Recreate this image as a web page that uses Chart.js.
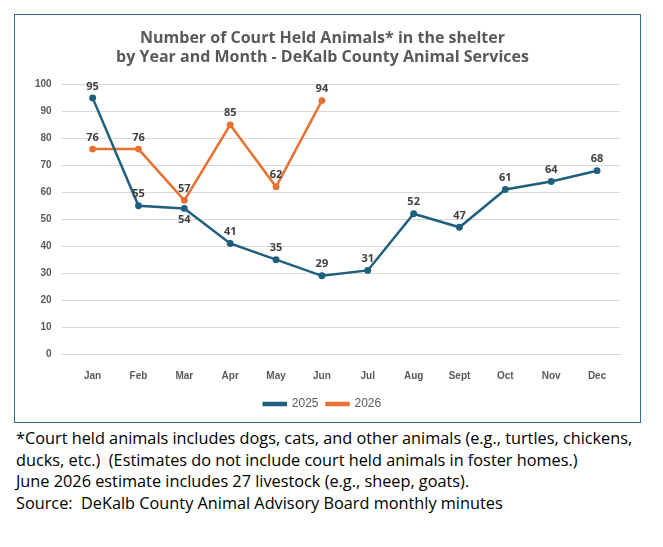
<!DOCTYPE html>
<html><head><meta charset="utf-8">
<script src="https://cdn.jsdelivr.net/npm/chart.js@4/dist/chart.umd.min.js"></script>
<style>
body{margin:0;background:#fff;font-family:"Open Sans",sans-serif;}
#box{position:absolute;left:14px;top:14px;width:627px;height:409px;border:1px solid #2f6f8f;box-sizing:border-box;}
#note{position:absolute;left:16px;top:428px;width:625px;font-size:16.3px;line-height:21.6px;color:#000;}
</style></head><body>
<div id="box"><canvas id="c"></canvas></div>
<div id="note">*Court held animals includes dogs, cats, and other animals (e.g., turtles, chickens, ducks, etc.)&nbsp; (Estimates do not include court held animals in foster homes.)<br>June 2026 estimate includes 27 livestock (e.g., sheep, goats).<br>Source:&nbsp; DeKalb County Animal Advisory Board monthly minutes</div>
<script>
const months = ["Jan","Feb","Mar","Apr","May","Jun","Jul","Aug","Sept","Oct","Nov","Dec"];
const values2025 = [95,55,54,41,35,29,31,52,47,61,64,68];
const values2026 = [76,76,57,85,62,94,null,null,null,null,null,null];
const below2025 = [false,false,true,false,false,false,false,false,false,false,false,false];

const labelPlugin = {
  id: "pointLabels",
  afterDatasetsDraw(chart) {
    const ctx = chart.ctx;
    ctx.save();
    ctx.font = "bold 11px 'Open Sans', sans-serif";
    ctx.fillStyle = "#404040";
    ctx.textAlign = "center";
    chart.data.datasets.forEach((ds, di) => {
      chart.getDatasetMeta(di).data.forEach((pt, i) => {
        const v = ds.data[i];
        if (v == null) return;
        const below = di === 0 && below2025[i];
        ctx.textBaseline = below ? "top" : "bottom";
        ctx.fillText(v, pt.x, below ? pt.y + 6 : pt.y - 6);
      });
    });
    ctx.restore();
  }
};

new Chart(document.getElementById("c"), {
  type: "line",
  data: {
    labels: months,
    datasets: [
      {label: "2025", data: values2025, borderColor: "#1f5f7e", backgroundColor: "#1f5f7e", borderWidth: 2.5, pointRadius: 2.2, tension: 0},
      {label: "2026", data: values2026, borderColor: "#e97132", backgroundColor: "#e97132", borderWidth: 2.5, pointRadius: 2.2, tension: 0}
    ]
  },
  options: {
    responsive: true,
    maintainAspectRatio: false,
    animation: false,
    layout: {padding: {left: 10, right: 20, top: 0, bottom: 2}},
    plugins: {
      title: {display: true, text: ["Number of Court Held Animals* in the shelter", "by Year and Month - DeKalb County Animal Services"],
        color: "#595959", font: {size: 16, weight: "bold", family: "'Open Sans', sans-serif"}, padding: {top: 14, bottom: 17}},
      legend: {position: "bottom", labels: {boxWidth: 22, boxHeight: 2, color: "#595959", font: {size: 12}, padding: 8}},
      tooltip: {enabled: false}
    },
    scales: {
      x: {offset: true, grid: {display: false}, border: {color: "#d9d9d9"},
        ticks: {color: "#595959", font: {size: 10, weight: "bold"}, padding: 8}},
      y: {min: 0, max: 100, grid: {color: "#d9d9d9"}, border: {display: false},
        ticks: {stepSize: 10, color: "#595959", font: {size: 10, weight: "bold"}, padding: 10}}
    }
  },
  plugins: [labelPlugin]
});
</script>
</body></html>
